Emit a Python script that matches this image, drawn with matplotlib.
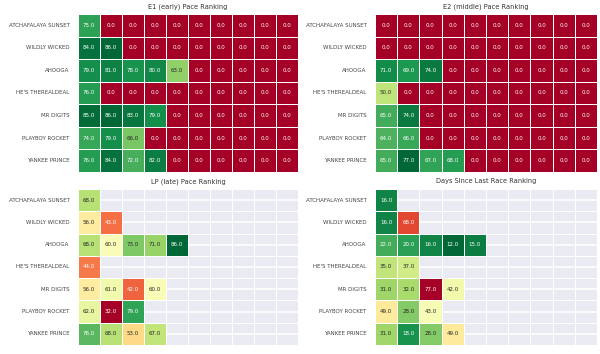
import numpy as np
import matplotlib
matplotlib.use("Agg")
import matplotlib.pyplot as plt
import seaborn as sns

horses = ["ATCHAFALAYA SUNSET", "WILDLY WICKED", "AHOOGA", "HE'S THEREALDEAL",
          "MR DIGITS", "PLAYBOY ROCKET", "YANKEE PRINCE"]
N_COLS = 10

# values per horse, most recent race first
e1 = [[75], [84, 86], [79, 81, 78, 80, 63], [76], [85, 86, 83, 79], [74, 79, 66], [76, 84, 72, 82]]
e2 = [[], [], [71, 69, 74], [50], [65, 74], [64, 66], [65, 77, 67, 68]]
lp = [[68], [56, 43], [68, 60, 73, 71, 86], [44], [56, 61, 42, 60], [62, 32, 79], [76, 68, 53, 67]]
days = [[16], [16, 68], [22, 20, 16, 12, 15], [35, 37], [31, 32, 77, 42], [49, 28, 43], [31, 18, 28, 49]]


def to_grid(rows, fill):
    grid = np.full((len(rows), N_COLS), fill, dtype=float)
    for i, r in enumerate(rows):
        grid[i, :len(r)] = r
    return grid


def draw(ax, rows, title, fill, cmap):
    grid = to_grid(rows, fill)
    sns.heatmap(grid, ax=ax, cmap=cmap, annot=True, fmt=".1f", cbar=False,
                linewidths=0.4, linecolor="white", annot_kws={"fontsize": 4.0},
                yticklabels=horses, xticklabels=False)
    ax.set_title(title, fontsize=4.8, color="#333333", pad=4)
    ax.tick_params(axis="y", labelsize=3.95, labelcolor="#444444", length=0, pad=6)
    ax.set_yticklabels(horses, rotation=0)
    ax.set_axisbelow(True)
    ax.yaxis.grid(True, color="white", linewidth=1.2)


sns.set_style("darkgrid")
fig = plt.figure(figsize=(6, 3.54), dpi=100)
ax1 = fig.add_axes([78 / 600, 1 - 172 / 354, 220 / 600, 158 / 354])
ax2 = fig.add_axes([375 / 600, 1 - 172 / 354, 222 / 600, 158 / 354])
ax3 = fig.add_axes([78 / 600, 1 - 345 / 354, 220 / 600, 156 / 354])
ax4 = fig.add_axes([375 / 600, 1 - 345 / 354, 222 / 600, 156 / 354])

draw(ax1, e1, "E1 (early) Pace Ranking", 0, "RdYlGn")
draw(ax2, e2, "E2 (middle) Pace Ranking", 0, "RdYlGn")
draw(ax3, lp, "LP (late) Pace Ranking", np.nan, "RdYlGn")
draw(ax4, days, "Days Since Last Race Ranking", np.nan, "RdYlGn_r")

fig.savefig("out.png", dpi=100)
